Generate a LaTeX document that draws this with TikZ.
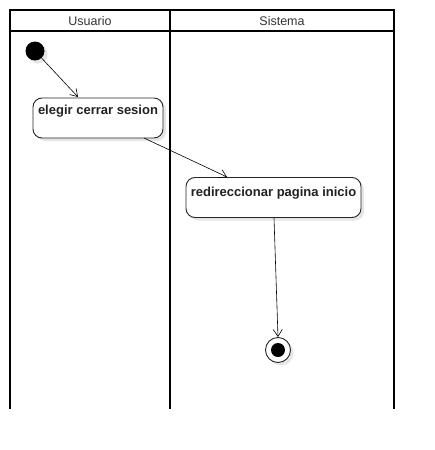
\documentclass[tikz,border=0pt]{standalone}
\usepackage{fontspec}
\setmainfont{Liberation Sans}
\usetikzlibrary{arrows.meta,shadows}
\definecolor{txt}{HTML}{222222}
\definecolor{hdrc}{HTML}{333333}
\definecolor{shd}{HTML}{E6E6E6}
\tikzset{
  lane/.style={line width=2pt, draw=black},
  act/.style={draw=black!85, line width=0.9pt, rounded corners=9pt, fill=white,
    minimum height=40pt, align=center, inner sep=0pt,
    drop shadow={shadow xshift=3pt, shadow yshift=-3pt, fill=shd, opacity=1}},
  acttext/.style={font=\fontsize{13}{15}\selectfont\bfseries, text=txt},
  flow/.style={draw=black, line width=0.6pt, -{Straight Barb[length=7pt,width=9pt,line width=0.6pt]}},
  hdr/.style={font=\fontsize{12.5}{14}\selectfont, text=hdrc}
}
\begin{document}
\begin{tikzpicture}[x=1pt,y=-1pt]
\useasboundingbox (0,0) rectangle (434,450);
% swimlanes
\draw[lane] (10,409) -- (10,10) -- (394,10) -- (394,409);
\draw[lane] (170,10) -- (170,409);
\draw[lane] (10,31) -- (394,31);
\node[hdr] (h1) at (90,21) {Usuario};
\node[hdr] (h2) at (282,21) {Sistema};
% start
\fill[shd] (38,54) circle (9.5);
\node[circle, fill=black, minimum size=19pt, inner sep=0pt] (start) at (35,51) {};
% activities
\node[act, minimum width=130pt] (a1) at (98,118) {};
\node[acttext] (t1) at (98,111) {elegir cerrar sesion};
\node[act, minimum width=175pt] (a2) at (273.5,197.5) {};
\node[acttext] (t2) at (273.5,193) {redireccionar pagina inicio};
% end
\fill[shd] (281,353) circle (12.5);
\node[circle, draw=black!85, line width=0.9pt, fill=white, minimum size=25pt, inner sep=0pt] (end) at (278,350) {};
\fill[black] (end.center) circle (7);
% flows
\draw[flow] (start) -- (78,97);
\draw[flow] (144,138) -- (227,177);
\draw[flow] (274,218) -- (end.north);
\end{tikzpicture}
\end{document}
